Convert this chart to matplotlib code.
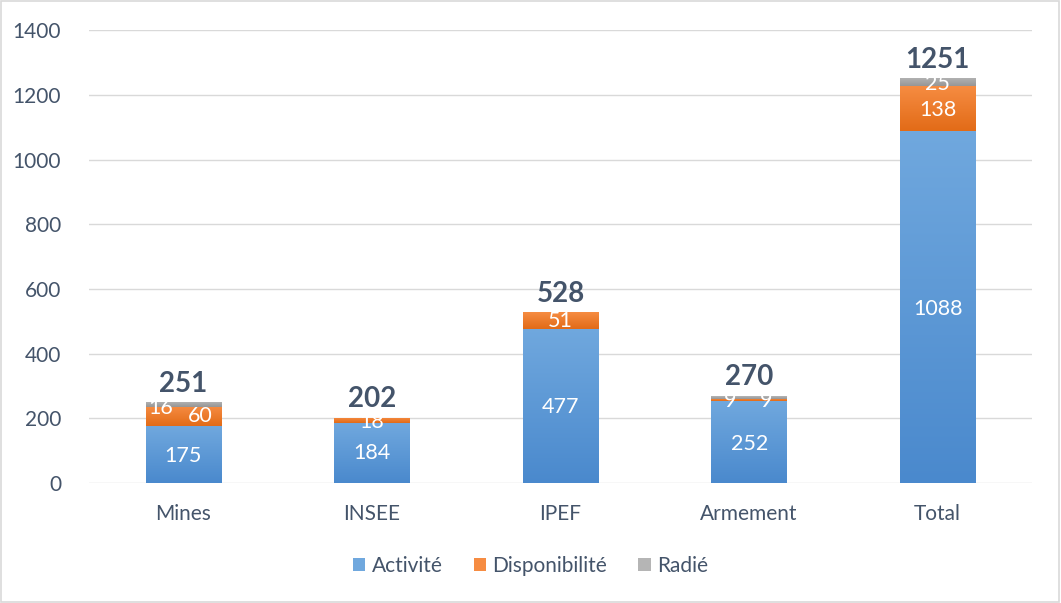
import numpy as np
import matplotlib
matplotlib.use('Agg')
import matplotlib.pyplot as plt
from matplotlib.colors import LinearSegmentedColormap
from matplotlib.patches import Rectangle

plt.rcParams['font.family'] = ['Lato', 'DejaVu Sans']

categories = ["Mines", "INSEE", "IPEF", "Armement", "Total"]
activite = [175, 184, 477, 252, 1088]
disponibilite = [60, 18, 51, 9, 138]
radie = [16, 0, 0, 9, 25]
totals = [251, 202, 528, 270, 1251]
yticks = [0, 200, 400, 600, 800, 1000, 1200, 1400]

TXT = '#44546A'
GRID = '#D9D9D9'
series = [
    ("Activité", activite, ('#4A89CD', '#70A8DE')),
    ("Disponibilité", disponibilite, ('#E26B17', '#F68C42')),
    ("Radié", radie, ('#969696', '#B5B5B5')),
]

fig = plt.figure(figsize=(10.61, 6.03), dpi=100)
ax = fig.add_axes([0.0839, 0.199, 0.8888, 0.751])

x = np.arange(len(categories))
bottom = np.zeros(len(categories))
grad = np.linspace(0, 1, 256).reshape(-1, 1)
handles = []
for name, vals, (c0, c1) in series:
    cmap = LinearSegmentedColormap.from_list(name, [c0, c1])
    bars = ax.bar(x, vals, 0.40, bottom=bottom, color='none', edgecolor='none', zorder=2)
    for b in bars:
        if b.get_height() <= 0:
            continue
        bx, by = b.get_x(), b.get_y()
        im = ax.imshow(grad, cmap=cmap, origin='lower', aspect='auto',
                       extent=[bx, bx + b.get_width(), by, by + b.get_height()], zorder=2)
        im.set_clip_path(b)
    handles.append(Rectangle((0, 0), 1, 1, facecolor=c1, edgecolor='none', label=name))
    bottom = bottom + np.array(vals)

# segment labels (positions offset like the Excel original)
lab = dict(color='white', fontsize=15.5, ha='center', va='center', zorder=4)
# Mines
ax.text(0 - 0.12, 232, str(radie[0]), **lab)
ax.text(0 + 0.09, 206, str(disponibilite[0]), **lab)
ax.text(0, activite[0] / 2 - 5, str(activite[0]), **lab)
# INSEE
ax.text(1, 188, str(disponibilite[1]), **lab)
ax.text(1, activite[1] / 2, str(activite[1]), **lab)
# IPEF
ax.text(2, 500, str(disponibilite[2]), **lab)
ax.text(2, activite[2] / 2 - 5, str(activite[2]), **lab)
# Armement
ax.text(3 - 0.10, 255, str(disponibilite[3]), **lab)
ax.text(3 + 0.09, 255, str(radie[3]), **lab)
ax.text(3, activite[3] / 2 - 5, str(activite[3]), **lab)
# Total
ax.text(4, 1233, str(radie[4]), **lab)
ax.text(4, 1153, str(disponibilite[4]), **lab)
ax.text(4, activite[4] / 2 - 5, str(activite[4]), **lab)

for i, t in enumerate(totals):
    ax.text(i, t + 16, str(t), color=TXT, fontsize=20, fontweight='bold',
            ha='center', va='bottom', zorder=4)

ax.set_xlim(-0.5, len(categories) - 0.5)
ax.set_ylim(0, 1400)
ax.set_yticks(yticks)
ax.set_xticks(x)
ax.set_xticklabels(categories)
ax.grid(axis='y', color=GRID, lw=1, zorder=0)
ax.set_axisbelow(True)
for s in ax.spines.values():
    s.set_visible(False)
ax.tick_params(length=0, colors=TXT, labelsize=15)
ax.tick_params(axis='y', pad=20)
ax.tick_params(axis='x', pad=15)

fig.legend(handles=handles, loc='center', bbox_to_anchor=(0.5, 0.062), ncol=3, frameon=False,
           fontsize=15, labelcolor=TXT, handlelength=0.6, handleheight=0.6,
           handletextpad=0.3, columnspacing=1.5)

fig.add_artist(Rectangle((0.001, 0.001), 0.997, 0.997, transform=fig.transFigure,
                         fill=False, edgecolor=GRID, lw=1.2))

fig.savefig('out.png', dpi=100)
